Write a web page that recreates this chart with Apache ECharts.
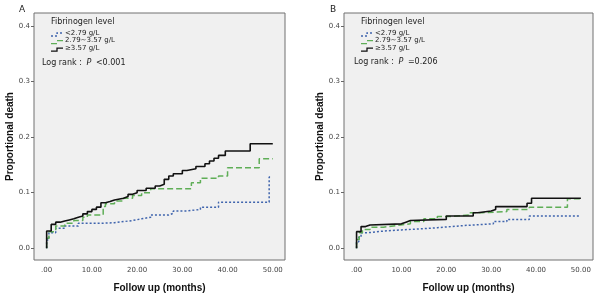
<!DOCTYPE html>
<html>
<head>
<meta charset="utf-8">
<script src="https://cdn.jsdelivr.net/npm/echarts@6/dist/echarts.min.js"></script>
<style>
  html, body { margin: 0; padding: 0; background: #fff; }
  #main { width: 600px; height: 298px; }
</style>
</head>
<body>
<div id="main"></div>
<script>
  // cumulative death proportion, [months, proportion] at each step
  var lowA = [[0, 0], [0, 0.015], [0.5, 0.028], [2, 0.036], [4, 0.04], [7, 0.045], [12, 0.046], [15, 0.048],
    [17, 0.05], [19, 0.053], [21, 0.056], [23, 0.06], [27, 0.063], [28, 0.067], [31, 0.07], [34, 0.074],
    [38, 0.083], [49.2, 0.128], [49.4, 0.128]];
  var midA = [[0, 0], [0, 0.018], [0.5, 0.03], [2, 0.04], [4, 0.045], [6, 0.05], [8, 0.056], [9, 0.06],
    [12.5, 0.075], [13, 0.08], [15, 0.085], [17, 0.09], [19, 0.095], [21, 0.1], [23, 0.107], [32, 0.118],
    [34, 0.126], [38, 0.13], [40, 0.145], [47, 0.161], [50, 0.161]];
  var highA = [[0, 0], [0, 0.031], [1, 0.043], [2, 0.047], [3, 0.049], [4, 0.051], [5, 0.053], [6, 0.056],
    [7, 0.058], [8, 0.062], [9, 0.066], [10, 0.07], [11, 0.074], [12, 0.082], [13, 0.084], [14, 0.087],
    [15, 0.09], [17, 0.093], [18, 0.097], [19, 0.1], [20, 0.104], [22, 0.108], [24, 0.112], [25, 0.115],
    [26, 0.124], [27, 0.13], [28, 0.134], [30, 0.14], [31, 0.143], [33, 0.147], [35, 0.152], [36, 0.157],
    [37, 0.162], [38, 0.167], [39.5, 0.175], [45, 0.188], [50, 0.188]];

  var lowB = [[0, 0], [0, 0.012], [0.5, 0.02], [1, 0.028], [2.5, 0.031], [6, 0.033], [10, 0.035], [14, 0.037],
    [18, 0.039], [21, 0.041], [24, 0.044], [30.5, 0.048], [33.5, 0.052], [38.5, 0.058], [50, 0.058]];
  var midB = [[0, 0], [0, 0.016], [0.6, 0.028], [1.3, 0.034], [3, 0.038], [6, 0.041], [9, 0.044], [12, 0.048],
    [15, 0.053], [18, 0.057], [21, 0.06], [25, 0.064], [28, 0.066], [33.5, 0.07], [38.5, 0.074],
    [47, 0.089], [50, 0.089]];
  var highB = [[0, 0], [0, 0.03], [1, 0.039], [2, 0.042], [3, 0.044], [10, 0.047], [11, 0.05], [12, 0.052],
    [20, 0.058], [26, 0.064], [27, 0.067], [30, 0.07], [31, 0.075], [38, 0.081], [39, 0.09], [50, 0.09]];

  var groupNames = ['<2.79 g/L', '2.79~3.57 g/L', '\u22653.57 g/L'];
  var xTicks = [0, 10, 20, 30, 40, 50];
  var yTicks = [0, 0.1, 0.2, 0.3, 0.4];
  var pTexts = ['<0.001', '=0.206'];

  var FONT = 'DejaVu Sans';
  var TITLE_FONT = 'Liberation Sans';
  var colors = ['#3f64ad', '#5fae57', '#111111'];
  var dashes = [[2, 2], [6, 3], 'solid'];

  var chart = echarts.init(document.getElementById('main'));

  var grids = [
    { left: 34, top: 13, width: 251, height: 254 },
    { left: 344, top: 13, width: 249, height: 254 }
  ];

  function xAxisFor(i) {
    return {
      gridIndex: i, type: 'value', min: -2.8, max: 52.7, position: 'bottom',
      axisLine: { show: false, onZero: false },
      axisTick: { show: false },
      axisLabel: {
        customValues: xTicks, fontSize: 7, color: '#444', fontFamily: FONT, margin: 7,
        formatter: function (v) { return v === 0 ? '.00' : v.toFixed(2); }
      },
      splitLine: { show: false },
      name: 'Follow up (months)', nameLocation: 'middle', nameGap: 23,
      nameTextStyle: { fontSize: 10, fontWeight: 'bold', color: '#111', fontFamily: TITLE_FONT }
    };
  }

  function yAxisFor(i) {
    return {
      gridIndex: i, type: 'value', min: -0.021, max: 0.423, position: 'left',
      axisLine: { show: false, onZero: false },
      axisTick: { show: true, customValues: yTicks, length: 3, lineStyle: { color: '#666' } },
      axisLabel: {
        customValues: yTicks, fontSize: 7, color: '#444', fontFamily: FONT, margin: 4,
        formatter: function (v) { return v.toFixed(1); }
      },
      splitLine: { show: false },
      name: 'Proportional death', nameLocation: 'middle', nameGap: 19,
      nameTextStyle: { fontSize: 10, fontWeight: 'bold', color: '#111', fontFamily: TITLE_FONT }
    };
  }

  function stepSeries(data, k, i) {
    return {
      type: 'line', step: 'end', xAxisIndex: i, yAxisIndex: i,
      name: groupNames[k], data: data, showSymbol: false, silent: true,
      z: k === 2 ? 4 : 3,
      lineStyle: { color: colors[k], width: k === 2 ? 1.6 : 1.5, type: dashes[k] }
    };
  }

  // 图例与 Log rank 文本
  function legendGraphics(x0, lx, ly, i) {
    var items = [
      { type: 'text', left: x0, top: 18, style: { text: 'Fibrinogen level', fontSize: 8, fontFamily: FONT, fill: '#222' } }
    ];
    for (var k = 0; k < 3; k++) {
      var y = 34 + k * 7.6;
      items.push({
        type: 'polyline', silent: true,
        shape: { points: [[x0, y + 2], [x0 + 6, y + 2], [x0 + 6, y - 1], [x0 + 12, y - 1]] },
        style: { stroke: colors[k], lineWidth: 1.3, fill: null, lineDash: k === 2 ? null : dashes[k] }
      });
      items.push({
        type: 'text', left: x0 + 14, top: y - 4.5,
        style: { text: groupNames[k], fontSize: 7, fontFamily: FONT, fill: '#222' }
      });
    }
    items.push({
      type: 'text', left: lx, top: ly,
      style: {
        text: 'Log rank : {i|P} ' + pTexts[i], fontSize: 8, fontFamily: FONT, fill: '#222',
        rich: { i: { fontStyle: 'italic', fontSize: 8, fontFamily: FONT, padding: [0, 2, 0, 2] } }
      }
    });
    return items;
  }

  var option = {
    backgroundColor: '#ffffff',
    animation: false,
    title: [
      { text: 'A', left: 14, top: 0, textStyle: { fontSize: 9, fontWeight: 'normal', color: '#222', fontFamily: FONT } },
      { text: 'B', left: 325, top: 0, textStyle: { fontSize: 9, fontWeight: 'normal', color: '#222', fontFamily: FONT } }
    ],
    grid: grids.map(function (g) {
      return Object.assign({ show: true, backgroundColor: '#f0f0f0', borderColor: '#707070', borderWidth: 1 }, g);
    }),
    xAxis: [xAxisFor(0), xAxisFor(1)],
    yAxis: [yAxisFor(0), yAxisFor(1)],
    graphic: legendGraphics(51, 42, 59, 0).concat(legendGraphics(361, 354, 58, 1)),
    series: [
      stepSeries(lowA, 0, 0), stepSeries(midA, 1, 0), stepSeries(highA, 2, 0),
      stepSeries(lowB, 0, 1), stepSeries(midB, 1, 1), stepSeries(highB, 2, 1)
    ]
  };

  chart.setOption(option);
</script>
</body>
</html>
